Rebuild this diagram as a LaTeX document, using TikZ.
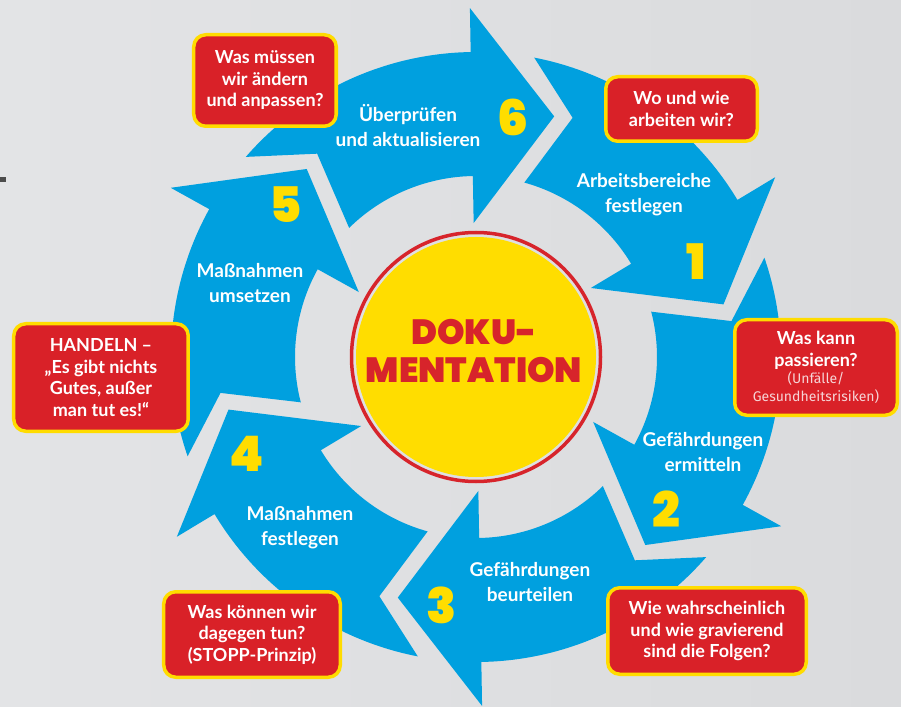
\documentclass[tikz,border=0pt]{standalone}
\usepackage{fontspec}
\setmainfont{Lato}
\IfFontExistsTF{Poppins-Black.ttf}{\newfontfamily\heavyfont{Poppins-Black.ttf}}
  {\IfFontExistsTF{FiraSans-Black.otf}{\newfontfamily\heavyfont{FiraSans-Black.otf}}
    {\newfontfamily\heavyfont{Lato}[UprightFont={* Bold}, FakeBold=3]}}
\newfontfamily\notefont{Fira Sans}
\usepackage{tikz}
\definecolor{ringblue}{HTML}{00A0DF}
\definecolor{boxred}{HTML}{D92128}
\definecolor{boxyellow}{HTML}{FFDC00}
\definecolor{discyellow}{HTML}{FFDD00}
\definecolor{discred}{HTML}{D7242B}
\definecolor{bgleft}{HTML}{E3E4E6}
\definecolor{bgmid}{HTML}{C5C6C8}
\definecolor{bgright}{HTML}{DADBDD}
\definecolor{notepink}{HTML}{F6D4D6}
% one blade of the ring, #1 = angle of its head's base line
\newcommand{\ringarrow}[1]{%
  \fill[ringblue] ({#1+48}:305) arc[start angle={#1+48}, end angle={#1}, radius=305]
    -- (#1:349) -- ({#1-19}:253) -- (#1:134) -- (#1:181)
    arc[start angle={#1}, end angle={#1+43.5}, radius=181]
    -- ({#1+37}:258) -- cycle;}
\newcommand{\note}[1]{{\notefont\mdseries\fontsize{14}{17}\selectfont\color{notepink}#1}}

\begin{document}
\begin{tikzpicture}[x=1pt,y=1pt,
  qbox/.style={draw=boxyellow, fill=boxred, line width=3.5, rounded corners=12,
    text=white, align=center, inner sep=0,
    font=\fontsize{18}{21.5}\selectfont\bfseries},
  steplabel/.style={text=white, align=center,
    font=\fontsize{19}{25}\selectfont\bfseries},
  stepnum/.style={text=discyellow, font=\fontsize{49}{49}\selectfont\heavyfont}]
  \useasboundingbox (-476,-349) rectangle (425,357);
  \shade[left color=bgleft, middle color=bgmid, right color=bgright]
    (-476,-349) rectangle (425,357);
  \fill[black!70] (-476,175) rectangle (-470,180);

  \foreach \b in {31,-29,-89,-149,151,91}
    {\ringarrow{\b}}

  % centre disc
  \draw[discred, line width=3.5] (0,0) circle[radius=124.5];
  \fill[discyellow] (0,0) circle[radius=120];
  \node[text=discred, align=center, font=\fontsize{35}{38}\selectfont\heavyfont]
    (doku) at (-2,6) {DOKU-\\MENTATION};

  % labels on the blades
  \node[steplabel] (lab6) at (-68,231.5) {Überprüfen\\und aktualisieren};
  \node[steplabel] (lab1) at (168,162) {Arbeitsbereiche\\festlegen};
  \node[steplabel] (lab2) at (227,-95) {Gefährdungen\\ermitteln};
  \node[steplabel] (lab3) at (54,-225.5) {Gefährdungen\\beurteilen};
  \node[steplabel] (lab4) at (-176,-170.5) {Maßnahmen\\festlegen};
  \node[steplabel] (lab5) at (-226,74) {Maßnahmen\\umsetzen};

  \foreach \n/\x/\y in {1/220/95, 2/190/-152, 3/-34/-248,
                        4/-229/-97, 5/-190/152, 6/37/240}
    {\node[stepnum] (num\n) at (\x,\y) {\n};}

  % question boxes
  \node[qbox, minimum width=142.5, minimum height=91.5] (q6) at (-211,276.5)
    {Was müssen\\wir ändern\\und anpassen?};
  \node[qbox, minimum width=151.5, minimum height=64.5] (q1) at (205.5,248)
    {Wo und wie\\arbeiten wir?};
  \node[qbox, minimum width=162.5, minimum height=95.5] (q2) at (340,-10.5)
    {Was kann\\passieren?\\[-4pt]\note{(Unfälle/}\\[-4pt]\note{Gesundheitsrisiken)}};
  \node[qbox, minimum width=198.5, minimum height=86.5] (q3) at (231,-274)
    {Wie wahrscheinlich\\und wie gravierend\\sind die Folgen?};
  \node[qbox, minimum width=176.5, minimum height=85.5] (q4) at (-224,-277.5)
    {Was können wir\\dagegen tun?\\(STOPP-Prinzip)};
  \node[qbox, minimum width=174.5, minimum height=107.5] (q5) at (-375,-20.5)
    {HANDELN –\\„Es gibt nichts\\Gutes, außer\\man tut es!“};
\end{tikzpicture}
\end{document}
